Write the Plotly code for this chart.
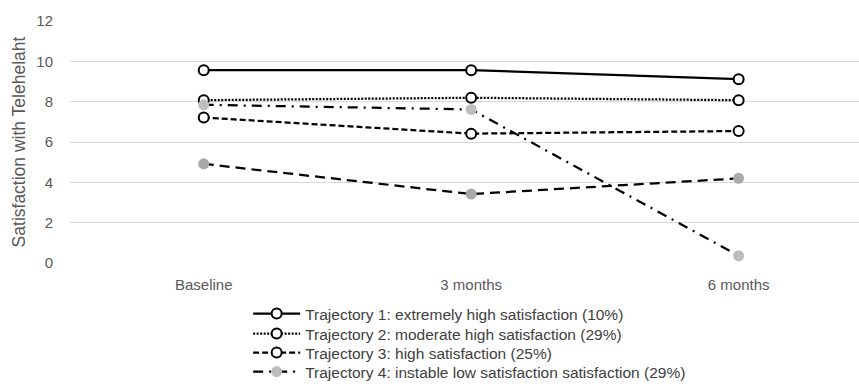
import plotly.graph_objects as go

categories = ["Baseline", "3 months", "6 months"]
traj1 = [9.57, 9.57, 9.12]
traj2 = [8.08, 8.2, 8.08]
traj3 = [7.22, 6.42, 6.55]
traj4 = [7.85, 7.62, 0.36]
traj5 = [4.92, 3.42, 4.2]
names = [
    "Trajectory 1: extremely high satisfaction (10%)",
    "Trajectory 2: moderate high satisfaction (29%)",
    "Trajectory 3: high satisfaction (25%)",
    "Trajectory 4: instable low satisfaction satisfaction (29%)",
]
y_ticks = [0, 2, 4, 6, 8, 10, 12]

FONT = "Liberation Sans"
open_marker = dict(symbol="circle", size=10, color="white", line=dict(color="black", width=2))

fig = go.Figure()
fig.add_trace(go.Scatter(x=categories, y=traj1, name=names[0], mode="lines+markers", legend="legend",
                         line=dict(color="black", width=2.25), marker=open_marker))
fig.add_trace(go.Scatter(x=categories, y=traj2, name=names[1], mode="lines+markers", legend="legend2",
                         line=dict(color="black", width=2.25, dash="2px,1.5px"), marker=open_marker))
fig.add_trace(go.Scatter(x=categories, y=traj3, name=names[2], mode="lines+markers", legend="legend3",
                         line=dict(color="black", width=2.25, dash="6px,3px"), marker=open_marker))
fig.add_trace(go.Scatter(x=categories, y=traj4, name=names[3], mode="lines+markers", legend="legend4",
                         line=dict(color="black", width=2.25, dash="10px,6px,2px,6px"),
                         marker=dict(symbol="circle", size=11, color="#bdbdbd", line=dict(width=0))))
fig.add_trace(go.Scatter(x=categories, y=traj5, name="", showlegend=False, mode="lines+markers",
                         line=dict(color="black", width=2.25, dash="10px,6px"),
                         marker=dict(symbol="circle", size=11, color="#a9a9a9", line=dict(width=0))))

legend_rows = [314, 334, 353, 372]
legend_common = dict(x=0.2258, xanchor="left", yanchor="middle",
                     font=dict(family=FONT, size=15.5, color="#404040"),
                     itemwidth=47, bgcolor="rgba(0,0,0,0)")
legends = {}
for i, ry in enumerate(legend_rows):
    key = "legend" if i == 0 else f"legend{i+1}"
    legends[key] = dict(legend_common, y=(263 - ry) / 242)

fig.update_layout(
    width=859, height=387,
    margin=dict(l=70, r=0, t=21, b=124, autoexpand=False),
    paper_bgcolor="white", plot_bgcolor="white",
    font=dict(family=FONT, size=15, color="#595959"),
    showlegend=True,
    xaxis=dict(type="category", range=[-0.5, 2.45], showgrid=False, zeroline=False,
               showline=False, ticks="", ticklabelstandoff=11,
               tickfont=dict(size=15, color="#595959")),
    yaxis=dict(range=[0, 12.01], tickvals=y_ticks, showgrid=True, gridcolor="#d9d9d9",
               gridwidth=1, zeroline=False, showline=False, ticks="",
               ticklabelstandoff=16,
               tickfont=dict(size=15, color="#595959"),
               title=dict(text="Satisfaction with Telehelaht", font=dict(size=17.5, color="#595959"),
                          standoff=6)),
    **legends,
)

fig.write_html("out.html", config={"displayModeBar": False},
               post_script="document.body.style.margin='0';")
